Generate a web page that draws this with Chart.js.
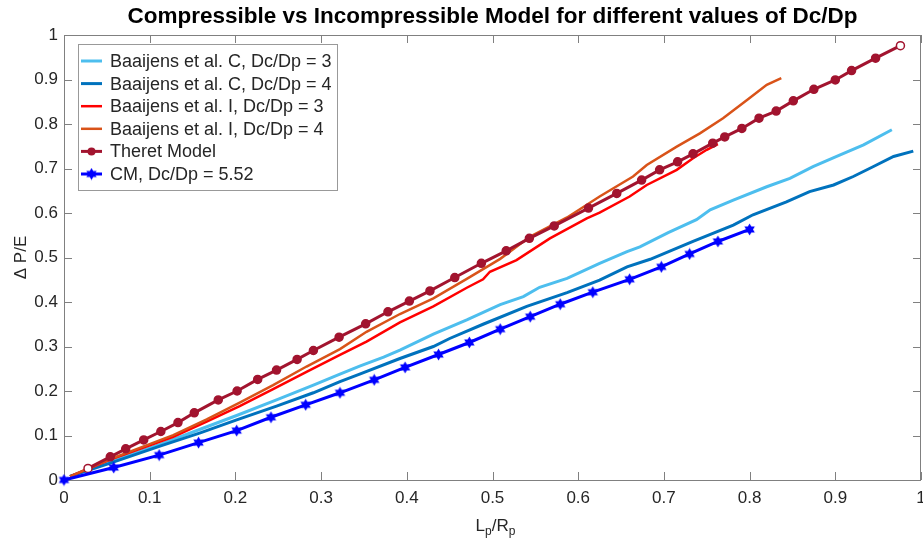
<!DOCTYPE html>
<html>
<head>
<meta charset="utf-8">
<script src="https://cdn.jsdelivr.net/npm/chart.js@4.4.0/dist/chart.umd.min.js"></script>
<style>
    body { margin: 0; background: #fff; }
    #wrap { width: 923px; height: 545px; }
</style>
</head>
<body>
<div id="wrap"><canvas id="myChart"></canvas></div>
<script>
// values
const tickValues = [0, 0.1, 0.2, 0.3, 0.4, 0.5, 0.6, 0.7, 0.8, 0.9, 1];
const tickLabels = ['0', '0.1', '0.2', '0.3', '0.4', '0.5', '0.6', '0.7', '0.8', '0.9', '1'];

const seriesNames = ['Baaijens et al. C, Dc/Dp = 3', 'Baaijens et al. C, Dc/Dp = 4',
    'Baaijens et al. I, Dc/Dp = 3', 'Baaijens et al. I, Dc/Dp = 4', 'Theret Model', 'CM, Dc/Dp = 5.52'];

const c3X = [0.007, 0.054, 0.112, 0.159, 0.2015, 0.248, 0.291, 0.322, 0.345, 0.373, 0.392, 0.431, 0.470, 0.509,
    0.536, 0.555, 0.587, 0.625, 0.657, 0.672, 0.705, 0.738, 0.754, 0.781, 0.820, 0.847, 0.874, 0.905, 0.933, 0.966];
const c3Y = [0.008, 0.042, 0.080, 0.114, 0.145, 0.180, 0.213, 0.238, 0.256, 0.276, 0.292, 0.328, 0.360, 0.394,
    0.412, 0.433, 0.453, 0.487, 0.513, 0.524, 0.556, 0.585, 0.607, 0.629, 0.659, 0.678, 0.704, 0.730, 0.753, 0.787];

const c4X = [0.007, 0.054, 0.112, 0.159, 0.2015, 0.248, 0.291, 0.322, 0.345, 0.392, 0.431, 0.450, 0.489, 0.540,
    0.587, 0.625, 0.657, 0.684, 0.734, 0.781, 0.804, 0.843, 0.870, 0.898, 0.921, 0.944, 0.968, 0.991];
const c4Y = [0.008, 0.038, 0.076, 0.106, 0.135, 0.166, 0.196, 0.221, 0.238, 0.273, 0.300, 0.318, 0.350, 0.390,
    0.421, 0.449, 0.479, 0.496, 0.536, 0.573, 0.596, 0.625, 0.648, 0.663, 0.682, 0.704, 0.727, 0.739];

const i3X = [0.007, 0.054, 0.1275, 0.1665, 0.205, 0.244, 0.283, 0.322, 0.353, 0.392, 0.431, 0.470, 0.489, 0.497,
    0.528, 0.567, 0.610, 0.625, 0.660, 0.680, 0.715, 0.734, 0.750, 0.763];
const i3Y = [0.008, 0.046, 0.097, 0.131, 0.166, 0.204, 0.243, 0.281, 0.311, 0.354, 0.390, 0.432, 0.451, 0.468,
    0.494, 0.543, 0.588, 0.601, 0.637, 0.663, 0.697, 0.723, 0.742, 0.755];

const i4X = [0.007, 0.054, 0.1275, 0.1665, 0.205, 0.244, 0.283, 0.322, 0.353, 0.392, 0.431, 0.470, 0.509, 0.544,
    0.587, 0.625, 0.664, 0.680, 0.715, 0.742, 0.769, 0.797, 0.820, 0.837];
const i4Y = [0.008, 0.047, 0.101, 0.136, 0.174, 0.213, 0.255, 0.294, 0.333, 0.373, 0.408, 0.452, 0.497, 0.547,
    0.590, 0.637, 0.682, 0.708, 0.749, 0.779, 0.813, 0.854, 0.888, 0.903];

const theretX = [0.028, 0.054, 0.072, 0.093, 0.113, 0.133, 0.152, 0.180, 0.202, 0.226, 0.248, 0.272, 0.291, 0.321,
    0.352, 0.378, 0.403, 0.427, 0.456, 0.487, 0.516, 0.543, 0.572, 0.612, 0.645, 0.674, 0.695, 0.716, 0.734, 0.757,
    0.771, 0.791, 0.811, 0.831, 0.851, 0.875, 0.900, 0.919, 0.947, 0.976];
const theretY = [0.026, 0.052, 0.070, 0.090, 0.109, 0.129, 0.151, 0.180, 0.200, 0.226, 0.247, 0.271, 0.291, 0.321,
    0.351, 0.378, 0.402, 0.425, 0.455, 0.487, 0.515, 0.543, 0.571, 0.611, 0.644, 0.674, 0.697, 0.715, 0.733, 0.757,
    0.771, 0.790, 0.813, 0.829, 0.852, 0.878, 0.899, 0.920, 0.948, 0.976];

const cmX = [0, 0.058, 0.111, 0.157, 0.2015, 0.2415, 0.282, 0.322, 0.362, 0.398, 0.437, 0.473, 0.509, 0.544,
    0.579, 0.617, 0.660, 0.697, 0.730, 0.763, 0.800];
const cmY = [0, 0.028, 0.056, 0.084, 0.111, 0.141, 0.169, 0.196, 0.225, 0.253, 0.282, 0.309, 0.339, 0.367,
    0.395, 0.422, 0.451, 0.479, 0.508, 0.536, 0.563];

const FONT = '"Liberation Sans", Arial, Helvetica, sans-serif';
const AXIS_COLOR = '#808080';
const TEXT_COLOR = '#262626';

function toPoints(xs, ys) {
    return xs.map(function (x, i) { return {x: x, y: ys[i]}; });
}

// filled six point star like the matlab hexagram marker
function makeHexagram(size, color) {
    const cv = document.createElement('canvas');
    cv.width = size;
    cv.height = size;
    const g = cv.getContext('2d');
    const c = size / 2, R = size / 2 - 0.5, r = R / Math.sqrt(3);
    g.beginPath();
    for (let i = 0; i < 12; i++) {
        const a = -Math.PI / 2 + i * Math.PI / 6;
        const rad = i % 2 === 0 ? R : r;
        g.lineTo(c + rad * Math.cos(a), c + rad * Math.sin(a));
    }
    g.closePath();
    g.fillStyle = color;
    g.fill();
    return cv;
}
const star = makeHexagram(13, '#0000FF');

// box with inward ticks on all four sides
const frame = {
    id: 'frame',
    beforeDatasetsDraw(chart) {
        const {ctx, chartArea: a, scales} = chart;
        ctx.save();
        ctx.strokeStyle = AXIS_COLOR;
        ctx.lineWidth = 1;
        ctx.strokeRect(Math.round(a.left) + 0.5, Math.round(a.top) + 0.5,
            Math.round(a.right - a.left) - 1, Math.round(a.bottom - a.top));
        ctx.beginPath();
        tickValues.forEach(function (v) {
            const px = Math.round(scales.x.getPixelForValue(v)) + 0.5;
            ctx.moveTo(px, a.bottom); ctx.lineTo(px, a.bottom - 8);
            ctx.moveTo(px, a.top); ctx.lineTo(px, a.top + 8);
            const py = Math.round(scales.y.getPixelForValue(v)) + 0.5;
            ctx.moveTo(a.left, py); ctx.lineTo(a.left + 8, py);
            ctx.moveTo(a.right, py); ctx.lineTo(a.right - 8, py);
        });
        ctx.stroke();
        ctx.restore();
    },
    afterDraw(chart) {
        // x axis title with subscripts
        const {ctx, chartArea: a} = chart;
        ctx.save();
        ctx.fillStyle = TEXT_COLOR;
        ctx.textBaseline = 'alphabetic';
        const big = '17px ' + FONT, small = '12px ' + FONT;
        const parts = [['L', big, 0], ['p', small, 4], ['/R', big, 0], ['p', small, 4]];
        let w = 0;
        parts.forEach(function (p) { ctx.font = p[1]; w += ctx.measureText(p[0]).width; });
        let x = (a.left + a.right) / 2 + 3 - w / 2;
        parts.forEach(function (p) {
            ctx.font = p[1];
            ctx.fillText(p[0], x, 531 + p[2]);
            x += ctx.measureText(p[0]).width;
        });
        ctx.restore();
    }
};

const legendBox = {
    id: 'legendBox',
    afterDraw(chart) {
        const {ctx, chartArea: a} = chart;
        const x0 = a.left + 14, y0 = a.top + 9;
        const rowH = 22.6;
        ctx.save();
        ctx.font = '18px ' + FONT;
        let maxW = 0;
        chart.data.datasets.forEach(function (ds) { maxW = Math.max(maxW, ctx.measureText(ds.label).width); });
        const boxW = 32 + maxW + 5, boxH = 146;
        ctx.fillStyle = '#fff';
        ctx.fillRect(x0, y0, boxW, boxH);
        ctx.strokeStyle = '#999';
        ctx.lineWidth = 1;
        ctx.strokeRect(Math.round(x0) + 0.5, Math.round(y0) + 0.5, Math.round(boxW), boxH);
        chart.data.datasets.forEach(function (ds, i) {
            const yy = y0 + 17 + i * rowH;
            ctx.strokeStyle = ds.borderColor;
            ctx.lineWidth = ds.borderWidth;
            ctx.beginPath();
            ctx.moveTo(x0 + 3, yy);
            ctx.lineTo(x0 + 24, yy);
            ctx.stroke();
            if (ds.label === 'Theret Model') {
                ctx.fillStyle = ds.borderColor;
                ctx.beginPath();
                ctx.arc(x0 + 13.5, yy, 4, 0, Math.PI * 2);
                ctx.fill();
            } else if (ds.pointStyle === star) {
                ctx.drawImage(star, x0 + 13.5 - 6.5, yy - 6.5);
            }
            ctx.fillStyle = TEXT_COLOR;
            ctx.textBaseline = 'middle';
            ctx.fillText(ds.label, x0 + 32, yy + 1);
        });
        ctx.restore();
    }
};

function axisTicks(scale) {
    scale.ticks = tickValues.map(function (v) { return {value: v}; });
}

const theretFill = theretX.map(function (x, i) {
    return (i === 0 || i === theretX.length - 1) ? '#fff' : '#A2142F';
});

new Chart(document.getElementById('myChart'), {
    type: 'line',
    data: {
        datasets: [
            {label: seriesNames[0], data: toPoints(c3X, c3Y), borderColor: '#4DBEEE', borderWidth: 3, pointRadius: 0, order: 6},
            {label: seriesNames[1], data: toPoints(c4X, c4Y), borderColor: '#0072BD', borderWidth: 3, pointRadius: 0, order: 5},
            {label: seriesNames[2], data: toPoints(i3X, i3Y), borderColor: '#FF0000', borderWidth: 2.5, pointRadius: 0, order: 4},
            {label: seriesNames[3], data: toPoints(i4X, i4Y), borderColor: '#D95319', borderWidth: 2.5, pointRadius: 0, order: 3},
            {label: seriesNames[4], data: toPoints(theretX, theretY), borderColor: '#A2142F', borderWidth: 3,
                pointStyle: 'circle', pointRadius: 4, pointBorderWidth: 1.5, pointBorderColor: '#A2142F',
                pointBackgroundColor: theretFill, order: 2},
            {label: seriesNames[5], data: toPoints(cmX, cmY), borderColor: '#0000FF', borderWidth: 3,
                pointStyle: star, pointRadius: 6, order: 1}
        ]
    },
    options: {
        responsive: true,
        maintainAspectRatio: false,
        animation: false,
        events: [],
        layout: {autoPadding: false, padding: {left: 0, right: 2, top: 0, bottom: 0}},
        datasets: {line: {tension: 0, fill: false, clip: false}},
        plugins: {
            legend: {display: false},
            tooltip: {enabled: false},
            title: {
                display: true,
                fullSize: false,
                text: 'Compressible vs Incompressible Model for different values of Dc/Dp',
                color: '#000',
                font: {family: FONT, size: 22.5, weight: 'bold', lineHeight: 1.2},
                padding: {top: 3.5, bottom: 4.5}
            }
        },
        scales: {
            x: {
                type: 'linear',
                min: 0,
                max: 1,
                grid: {display: false, drawTicks: false},
                border: {display: false},
                afterBuildTicks: axisTicks,
                afterFit: function (s) { s.height = 65; s.paddingLeft = 0; s.paddingRight = 0; },
                ticks: {
                    padding: 8,
                    maxRotation: 0,
                    autoSkip: false,
                    color: TEXT_COLOR,
                    font: {family: FONT, size: 17},
                    callback: function (v, i) { return tickLabels[i]; }
                }
            },
            y: {
                type: 'linear',
                min: 0,
                max: 1,
                grid: {display: false, drawTicks: false},
                border: {display: false},
                afterBuildTicks: axisTicks,
                afterFit: function (s) { s.width = 64; s.paddingTop = 0; s.paddingBottom = 0; },
                title: {
                    display: true,
                    text: 'Δ P/E',
                    color: TEXT_COLOR,
                    font: {family: FONT, size: 17},
                    padding: {top: 11, bottom: 0}
                },
                ticks: {
                    padding: 6,
                    autoSkip: false,
                    color: TEXT_COLOR,
                    font: {family: FONT, size: 17},
                    callback: function (v, i) { return tickLabels[i]; }
                }
            }
        }
    },
    plugins: [frame, legendBox]
});
</script>
</body>
</html>
